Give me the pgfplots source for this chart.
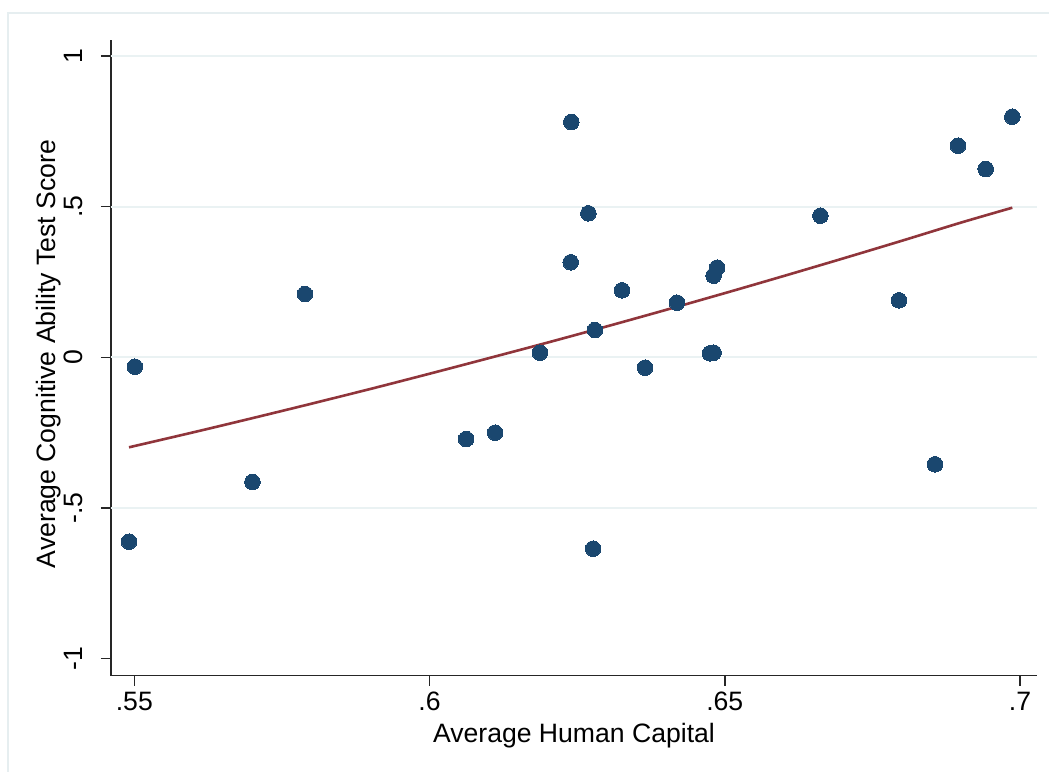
\documentclass[border=0pt]{standalone}
\usepackage{fontspec}
\setmainfont{Liberation Sans}
\usepackage{pgfplots}
\pgfplotsset{compat=1.18}

\definecolor{dotblue}{RGB}{26,71,111}
\definecolor{fitred}{RGB}{144,53,59}
\definecolor{gridcol}{RGB}{234,242,243}
\definecolor{framecol}{RGB}{230,238,240}

% country averages: human capital vs. cognitive test score
\pgfplotstableread{
x      y
0.5491 -0.6122
0.5501 -0.0312
0.5700 -0.4140
0.5789  0.2102
0.6062 -0.2712
0.6111 -0.2503
0.6187  0.0153
0.6240  0.7812
0.6239  0.3154
0.6269  0.4781
0.6280  0.0906
0.6277 -0.6355
0.6326  0.2224
0.6365 -0.0345
0.6419  0.1813
0.6475  0.0133
0.6481  0.0153
0.6481  0.2709
0.6487  0.2975
0.6662  0.4701
0.6795  0.1892
0.6856 -0.3552
0.6895  0.7025
0.6942  0.6252
0.6987  0.7988
}\scores

% fitted curve
\pgfplotstableread{
x      y
0.5491 -0.2988
0.5600 -0.2490
0.5700 -0.2020
0.5800 -0.1540
0.5900 -0.1050
0.6000 -0.0545
0.6100 -0.0030
0.6200  0.0490
0.6300  0.1025
0.6400  0.1572
0.6500  0.2130
0.6600  0.2700
0.6700  0.3280
0.6800  0.3870
0.6900  0.4472
0.6987  0.4967
}\fit

\begin{document}
\begin{tikzpicture}
\useasboundingbox (-55.5pt,-47.65pt) rectangle (469pt,337.85pt);
\fill[white] (-55.5pt,-47.65pt) rectangle (469pt,337.85pt);
\draw[framecol, line width=0.75pt] (-51.5pt,-60pt) -- (-51.5pt,331.35pt) -- (480pt,331.35pt);
\begin{axis}[
  at={(0,0)}, anchor=south west,
  scale only axis,
  width=463pt, height=317.85pt,
  xmin=0.54605, xmax=0.70288,
  ymin=-1.0571, ymax=1.0535,
  axis x line*=bottom, axis y line*=left,
  axis line style={black!85, line width=0.75pt},
  tick align=outside,
  major tick length=5pt,
  tick style={black!85, line width=0.75pt},
  xtick={0.55,0.6,0.65,0.7},
  xticklabels={.55,.6,.65,.7},
  ytick={-1,-0.5,0,0.5,1},
  yticklabels={-1,-.5,0,.5,1},
  extra y ticks={-0.5,0,0.5,1},
  extra y tick labels={},
  extra y tick style={major grid style={gridcol, line width=0.9pt}, ymajorgrids=true, major tick length=0pt},
  font=\fontsize{13.3}{16}\selectfont,
  xticklabel style={anchor=north, inner sep=0pt, yshift=-3pt},
  yticklabel style={xshift=-9pt, rotate=90, anchor=base, inner sep=0pt},
  xlabel={Average Human Capital},
  ylabel={Average Cognitive Ability Test Score},
  xlabel style={at={([yshift=-33.5pt]axis description cs:0.5,0)}, anchor=base, inner sep=0pt},
  ylabel style={at={([xshift=-27.5pt]axis description cs:0,0.506)}, rotate=0, anchor=base, inner sep=0pt},
  clip=false,
]
\addplot[only marks, mark=*, mark size=3.9pt, mark options={fill=dotblue, draw=dotblue, line width=0pt}] table {\scores};
\addplot[fitred, line width=1.3pt, smooth] table {\fit};
\end{axis}
\end{tikzpicture}
\end{document}
